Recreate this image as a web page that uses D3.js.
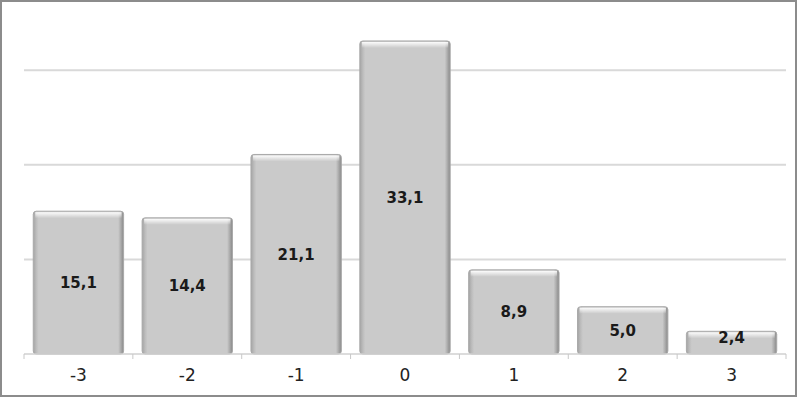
<!DOCTYPE html>
<html>
<head>
<meta charset="utf-8">
<script src="https://cdn.jsdelivr.net/npm/d3@7"></script>
<style>
  html, body { margin: 0; padding: 0; background: #fff; }
  svg { display: block; }
</style>
</head>
<body>
<script>
// chart data
const categories = ['-3', '-2', '-1', '0', '1', '2', '3']
const values = [15.1, 14.4, 21.1, 33.1, 8.9, 5.0, 2.4]
const gridTicks = [10, 20, 30]

const width = 798
const height = 398
const margin = { top: 23, right: 12, bottom: 44, left: 24 }

const svg = d3.select('body')
  .append('svg')
  .attr('width', width)
  .attr('height', height)

// outer frame
svg.append('rect')
  .attr('x', 1).attr('y', 1)
  .attr('width', width - 3).attr('height', height - 3)
  .attr('fill', '#fff')
  .attr('stroke', '#8c8c8c')
  .attr('stroke-width', 2)

const x = d3.scaleBand()
  .domain(categories)
  .range([margin.left, width - margin.right])
  .paddingInner(0.17)
  .paddingOuter(0.085)

const y = d3.scaleLinear()
  .domain([0, 35])
  .range([height - margin.bottom, margin.top])

// gradients for the bevel look
const defs = svg.append('defs')
const sideGrad = defs.append('linearGradient')
  .attr('id', 'side').attr('x1', 0).attr('x2', 1).attr('y1', 0).attr('y2', 0)
sideGrad.append('stop').attr('offset', 0).attr('stop-color', '#a4a4a4')
sideGrad.append('stop').attr('offset', 0.035).attr('stop-color', '#bdbdbd')
sideGrad.append('stop').attr('offset', 0.06).attr('stop-color', '#cacaca')
sideGrad.append('stop').attr('offset', 0.94).attr('stop-color', '#cacaca')
sideGrad.append('stop').attr('offset', 0.965).attr('stop-color', '#b0b0b0')
sideGrad.append('stop').attr('offset', 1).attr('stop-color', '#888888')

const topGrad = defs.append('linearGradient')
  .attr('id', 'top').attr('x1', 0).attr('x2', 0).attr('y1', 0).attr('y2', 1)
topGrad.append('stop').attr('offset', 0).attr('stop-color', '#ffffff').attr('stop-opacity', 0.95)
topGrad.append('stop').attr('offset', 1).attr('stop-color', '#ffffff').attr('stop-opacity', 0)

// gridlines
svg.append('g')
  .selectAll('line')
  .data(gridTicks)
  .join('line')
  .attr('x1', margin.left)
  .attr('x2', width - margin.right)
  .attr('y1', d => y(d))
  .attr('y2', d => y(d))
  .attr('stroke', '#d9d9d9')
  .attr('stroke-width', 2)

// bars
const bar = svg.append('g')
  .selectAll('g')
  .data(values)
  .join('g')
  .attr('transform', (d, i) => 'translate(' + x(categories[i]) + ',0)')

bar.append('rect')
  .attr('x', 0)
  .attr('y', d => y(d))
  .attr('width', x.bandwidth())
  .attr('height', d => y(0) - y(d))
  .attr('rx', 3)
  .attr('fill', 'url(#side)')
  .attr('stroke', '#a9a9a9')
  .attr('stroke-width', 1)

bar.append('rect')
  .attr('x', 2)
  .attr('y', d => y(d) + 1)
  .attr('width', x.bandwidth() - 4)
  .attr('height', 6)
  .attr('fill', 'url(#top)')

// value labels
bar.append('text')
  .attr('x', x.bandwidth() / 2)
  .attr('y', d => Math.min((y(d) + y(0)) / 2, y(0) - 16))
  .attr('dy', '0.36em')
  .attr('text-anchor', 'middle')
  .attr('font-family', 'DejaVu Sans, Verdana, sans-serif')
  .attr('font-weight', 'bold')
  .attr('font-size', 15)
  .attr('fill', '#1a1a1a')
  .text(d => d.toFixed(1).replace('.', ','))

// x axis
const axis = svg.append('g')
  .attr('transform', 'translate(0,' + y(0) + ')')

axis.append('line')
  .attr('x1', margin.left)
  .attr('x2', width - margin.right)
  .attr('stroke', '#d0d0d0')
  .attr('stroke-width', 1.5)

const bounds = d3.range(categories.length + 1).map(i => margin.left + i * (width - margin.left - margin.right) / categories.length)
axis.selectAll('.tick')
  .data(bounds)
  .join('line')
  .attr('x1', d => d).attr('x2', d => d)
  .attr('y1', 0).attr('y2', 5)
  .attr('stroke', '#c8c8c8')

axis.selectAll('text')
  .data(categories)
  .join('text')
  .attr('x', d => x(d) + x.bandwidth() / 2)
  .attr('y', 27)
  .attr('text-anchor', 'middle')
  .attr('font-family', 'DejaVu Sans, Verdana, sans-serif')
  .attr('font-size', 17)
  .attr('fill', '#222')
  .text(d => d)
</script>
</body>
</html>
